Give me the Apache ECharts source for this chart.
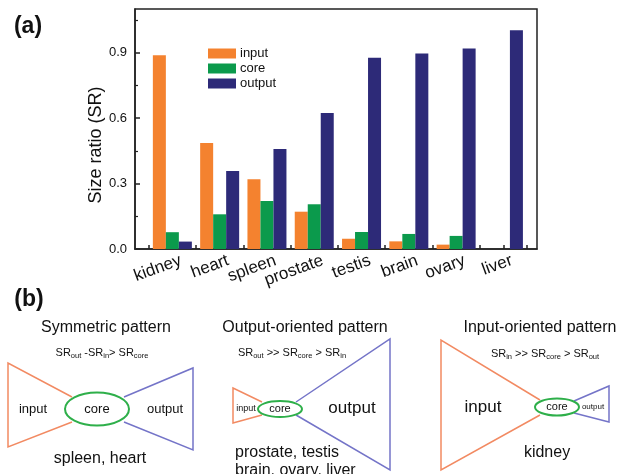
<!DOCTYPE html>
<html><head><meta charset="utf-8">
<script src="https://cdn.jsdelivr.net/npm/echarts@6/dist/echarts.min.js"></script>
<style>html,body{margin:0;padding:0;background:#fff}#c{width:621px;height:474px}</style>
</head><body><div id="c"></div>
<script>
const categories = ['kidney','heart','spleen','prostate','testis','brain','ovary','liver'];
const inputSR  = [0.888, 0.486, 0.320, 0.171, 0.047, 0.035, 0.020, 0];
const coreSR   = [0.077, 0.159, 0.220, 0.205, 0.078, 0.069, 0.060, 0];
const outputSR = [0.034, 0.358, 0.458, 0.623, 0.876, 0.896, 0.919, 1.003];
const yMajorTicks = [0, 0.3, 0.6, 0.9];
const yMinorTicks = [0.15, 0.45, 0.75, 1.05];
const seriesNames = ['input','core','output'];
const yAxisTitle = 'Size ratio (SR)';

const FONT = '"Liberation Sans", Arial, sans-serif';
const C_IN = '#F4822F', C_CORE = '#0B9A4C', C_OUT = '#2D2A78';
const L_IN = '#F28A62', L_CORE = '#2EAF4A', L_OUT = '#7474C8';

const xTicks = [];
for (let i = 0; i <= categories.length; i++) { xTicks.push(i + 0.5); if (i < categories.length) xTicks.push(i + 1); }
xTicks.sort((a,b)=>a-b);
const xLabelPos = categories.map((c,i)=>i + 1 + 0.18);

const toData = arr => arr.map((v,i)=>[i+1, v]);

function txt(x, y, text, size, opts) {
  opts = opts || {};
  const el = {type:'text', x:x, y:y, z:10, style:Object.assign({text:text, font:(opts.weight||'normal')+' '+size+'px '+FONT,
    fill:opts.fill||'#111', align:opts.align||'center', textAlign:opts.align||'center',
    verticalAlign:'middle', textVerticalAlign:'middle'}, opts.rich?{rich:opts.rich}:{})};
  if (opts.rotation) el.rotation = opts.rotation;
  return el;
}
function pl(points, color) {
  return {type:'polyline', z:5, shape:{points:points}, style:{stroke:color, lineWidth:1.5, fill:null}};
}
function ell(cx, cy, rx, ry) {
  return {type:'ellipse', z:8, shape:{cx:cx, cy:cy, rx:rx, ry:ry}, style:{stroke:L_CORE, lineWidth:2, fill:'#fff'}};
}
const subRich = {
  a:{fontSize:11, fontFamily:FONT, color:'#444'},
  s:{fontSize:7.5, fontFamily:FONT, color:'#444', padding:[5,0,0,0]}
};

const chart = echarts.init(document.getElementById('c'), null, {renderer:'canvas'});
chart.setOption({
  animation:false,
  backgroundColor:'#fff',
  grid:{left:135, top:9, right:84, bottom:225, show:true, borderColor:'#222', borderWidth:1.5, containLabel:false},
  legend:{left:208, top:47, padding:0, orient:'vertical', icon:'rect', itemWidth:28, itemHeight:10, itemGap:2,
    data:seriesNames, textStyle:{fontFamily:FONT, fontSize:13, color:'#111', padding:[0,0,0,-1]}},
  xAxis:{type:'value', min:0.21, max:8.71, splitLine:{show:false},
    axisLine:{show:true, lineStyle:{color:'#222', width:1.5}},
    axisTick:{show:true, inside:true, length:4, lineStyle:{color:'#222', width:1.5}, customValues:xTicks},
    axisLabel:{customValues:xLabelPos, rotate:20, margin:11, fontFamily:FONT, fontSize:17, color:'#111',
      formatter:v=>categories[Math.round(v - 0.18) - 1] || ''}},
  yAxis:[{type:'value', min:0, max:1.1, splitLine:{show:false},
    axisLine:{show:true, lineStyle:{color:'#222', width:1.5}},
    axisTick:{show:true, inside:true, length:5, lineStyle:{color:'#222', width:1.5}, customValues:yMajorTicks},
    axisLabel:{customValues:yMajorTicks, margin:8, fontFamily:FONT, fontSize:13, color:'#111', formatter:v=>v.toFixed(1)}},
   {type:'value', min:0, max:1.1, position:'left', offset:0, splitLine:{show:false},
    axisLine:{show:false}, axisLabel:{show:false},
    axisTick:{show:true, inside:true, length:3, lineStyle:{color:'#222', width:1.2}, customValues:yMinorTicks}}],
  series:[
    {name:'input', type:'bar', data:toData(inputSR), barWidth:13, barGap:'0%', itemStyle:{color:C_IN}},
    {name:'core', type:'bar', data:toData(coreSR), barWidth:13, barGap:'0%', itemStyle:{color:C_CORE}},
    {name:'output', type:'bar', data:toData(outputSR), barWidth:13, barGap:'0%', itemStyle:{color:C_OUT}}
  ],
  graphic:[
    txt(96, 145, yAxisTitle, 18, {rotation:Math.PI/2}),
    txt(28, 27, '(a)', 23, {weight:'bold'}),
    txt(29, 300, '(b)', 23, {weight:'bold'}),
    // Symmetric
    txt(106, 328, 'Symmetric pattern', 16),
    txt(102, 353, '{a|SR}{s|out}{a| -SR}{s|in}{a|> SR}{s|core}', 11, {rich:subRich}),
    pl([[72,397],[8,363],[8,447],[72,422]], L_IN),
    pl([[124,397],[193,368],[193,450],[124,422]], L_OUT),
    ell(97, 409, 32, 16.5),
    txt(33, 409, 'input', 13),
    txt(97, 409, 'core', 13),
    txt(165, 409, 'output', 13),
    txt(100, 459, 'spleen, heart', 16),
    // Output-oriented
    txt(305, 328, 'Output-oriented pattern', 16),
    txt(292, 353, '{a|SR}{s|out}{a| >> SR}{s|core}{a| > SR}{s|in}', 11, {rich:subRich}),
    pl([[262,402],[233,388],[233,423],[262,415]], L_IN),
    pl([[296,402],[390,339],[390,470],[296,415]], L_OUT),
    ell(280, 409, 22, 8),
    txt(246, 409, 'input', 9),
    txt(280, 409, 'core', 11),
    txt(352, 408, 'output', 17),
    txt(235, 453, 'prostate, testis', 16, {align:'left'}),
    txt(235, 471, 'brain, ovary, liver', 16, {align:'left'}),
    // Input-oriented
    txt(540, 328, 'Input-oriented pattern', 16),
    txt(545, 354, '{a|SR}{s|in}{a| >> SR}{s|core}{a| > SR}{s|out}', 11, {rich:subRich}),
    pl([[540,400],[441,340],[441,470],[540,415]], L_IN),
    pl([[574,401],[609,386],[609,422],[574,413]], L_OUT),
    ell(557, 407, 22, 8.5),
    txt(483, 407, 'input', 17),
    txt(557, 407, 'core', 11),
    txt(593, 407, 'output', 8),
    txt(547, 453, 'kidney', 16)
  ]
});
</script></body></html>
